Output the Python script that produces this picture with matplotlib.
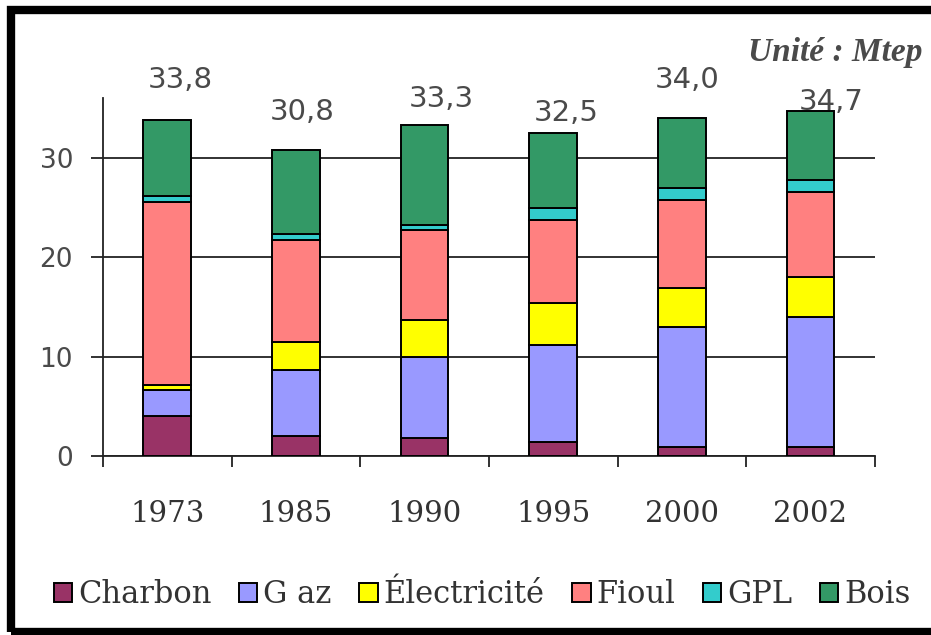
import matplotlib
matplotlib.use('Agg')
import matplotlib.pyplot as plt
import matplotlib.patches as mpatches
import numpy as np

# consommation par énergie (Mtep)
annees = ['1973', '1985', '1990', '1995', '2000', '2002']
charbon = [4.0, 2.0, 1.8, 1.4, 0.9, 0.9]
gaz = [2.6, 6.7, 8.2, 9.8, 12.1, 13.1]
electricite = [0.5, 2.8, 3.7, 4.2, 3.9, 4.0]
fioul = [18.5, 10.3, 9.1, 8.4, 8.9, 8.6]
gpl = [0.6, 0.6, 0.5, 1.2, 1.2, 1.2]
bois = [7.6, 8.4, 10.0, 7.5, 7.0, 6.9]
totaux = ['33,8', '30,8', '33,3', '32,5', '34,0', '34,7']

noms = ['Charbon', 'G az', 'Électricité', 'Fioul', 'GPL', 'Bois']
couleurs = ['#993366', '#9999FF', '#FFFF00', '#FF8080', '#33CCCC', '#339966']

# decalage des etiquettes de total (x, y en unites de donnees)
decalages = [(0.10, 4.1), (0.05, 3.8), (0.13, 2.6), (0.10, 2.0), (0.04, 3.9), (0.16, 0.9)]

fig = plt.figure(figsize=(9.31, 6.35), dpi=100)
ax = fig.add_axes([0.1106, 0.2819, 0.829, 0.563])

x = np.arange(len(annees))
bas = np.zeros(len(annees))
handles = []
for serie, nom, c in zip([charbon, gaz, electricite, fioul, gpl, bois], noms, couleurs):
    b = ax.bar(x, serie, width=0.37, bottom=bas, color=c, edgecolor='black', linewidth=1.4, zorder=3, label=nom)
    handles.append(b)
    bas = bas + np.array(serie)

# totaux au dessus des barres
for i, t in enumerate(totaux):
    dx, dy = decalages[i]
    ax.text(i + dx, bas[i] + dy, t, ha='center', va='center', fontsize=21,
            color='#4a4a4a', family='DejaVu Sans', clip_on=False)

ax.set_xlim(-0.5, 5.5)
ax.set_ylim(0, 36)
ax.set_yticks([0, 10, 20, 30])
ax.yaxis.grid(True, color='#222222', linewidth=1.3, zorder=0)
ax.set_axisbelow(True)

ax.set_xticks(x)
ax.set_xticklabels(annees, family='DejaVu Serif', fontsize=21, color='#333333')
ax.set_xticks(np.arange(-0.5, 6.0, 1.0), minor=True)
ax.tick_params(axis='x', which='major', length=0, pad=32)
ax.tick_params(axis='x', which='minor', length=8, width=1.3, direction='out', color='#222222')
ax.tick_params(axis='y', which='major', length=8.5, width=1.3, pad=13, labelsize=19,
               labelcolor='#4a4a4a', color='#222222')

for s in ['top', 'right']:
    ax.spines[s].set_visible(False)
for s in ['left', 'bottom']:
    ax.spines[s].set_color('#222222')
    ax.spines[s].set_linewidth(1.3)

fig.text(0.897, 0.917, 'Unité : Mtep', ha='center', va='center', fontsize=24,
         style='italic', weight='bold', family='Liberation Serif', color='#4a4a4a')

leg = fig.legend(handles=handles, loc='center', bbox_to_anchor=(0.518, 0.063), ncol=6,
                 frameon=False, handlelength=0.6, handleheight=0.6, handletextpad=0.2,
                 columnspacing=0.9, prop={'family': 'DejaVu Serif', 'size': 22})
for t in leg.get_texts():
    t.set_color('#333333')

# cadre noir autour de l'image
W, H = 931.0, 635.0
cadre = mpatches.Rectangle((11 / W, 3 / H), 1.2, 622 / H, transform=fig.transFigure,
                           fill=False, edgecolor='black', linewidth=6, clip_on=False)
fig.patches.append(cadre)

fig.savefig('out.png', dpi=100)
